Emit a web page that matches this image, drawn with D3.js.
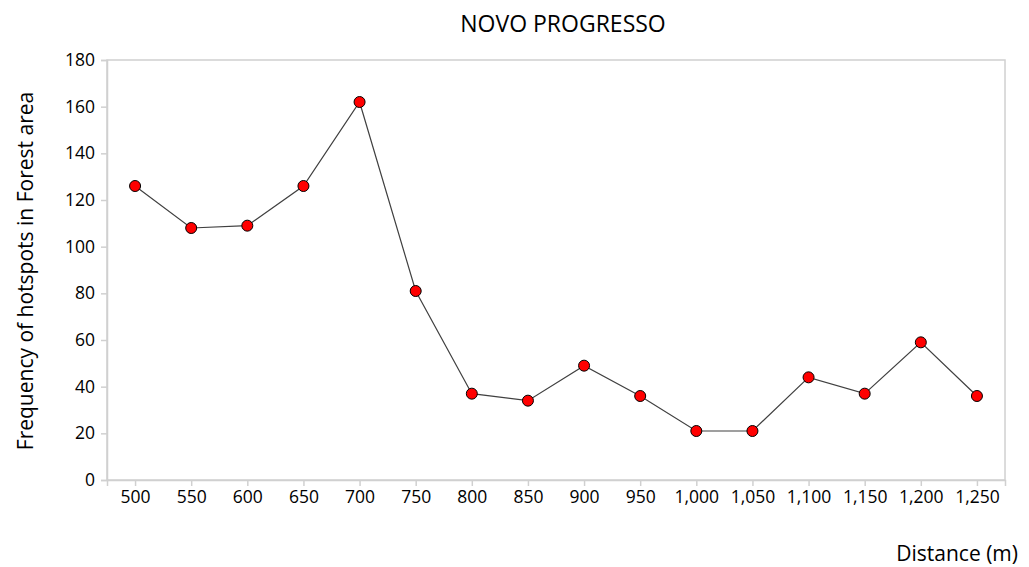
<!DOCTYPE html>
<html><head><meta charset="utf-8">
<script src="https://cdn.jsdelivr.net/npm/d3@7"></script>
<style>body{margin:0;background:#fff}svg{display:block}text{font-family:"Open Sans",sans-serif;fill:#000}</style>
</head><body>
<svg id="c" width="1029" height="567"></svg>
<script>
const categories = [500,550,600,650,700,750,800,850,900,950,1000,1050,1100,1150,1200,1250];
const values = [126,108,109,126,162,81,37,34,49,36,21,21,44,37,59,36];
const yTicks = [0,20,40,60,80,100,120,140,160,180];

const svg = d3.select("#c");
const L=107, R=1005, T=60, B=480;
const x = d3.scalePoint().domain(categories).range([L,R]).padding(0.5);
const y = d3.scaleLinear().domain([0,180]).range([B,T]);
const fmt = d3.format(",");

svg.append("rect").attr("x",L).attr("y",T).attr("width",R-L).attr("height",B-T)
  .attr("fill","none").attr("stroke","#d0d0d0").attr("stroke-width",1.5);

const ya = svg.append("g").attr("transform",`translate(${L},0)`)
  .call(d3.axisLeft(y).tickValues(yTicks).tickSize(6).tickPadding(6));
ya.select(".domain").attr("stroke","#d0d0d0").attr("stroke-width",1.5);
ya.selectAll(".tick line").attr("stroke","#d0d0d0").attr("stroke-width",1.5);
ya.selectAll("text").style("font-size","17.5px").attr("fill","#000");

const xa = svg.append("g").attr("transform",`translate(0,${B})`)
  .call(d3.axisBottom(x).tickFormat(fmt).tickSize(6).tickPadding(5));
xa.select(".domain").attr("stroke","#d0d0d0").attr("stroke-width",1.5);
xa.selectAll(".tick line").attr("stroke","#d0d0d0").attr("stroke-width",1.5);
xa.selectAll("text").style("font-size","17.5px").attr("fill","#000");

const line = d3.line().x((d,i)=>x(categories[i])).y(d=>y(d));
svg.append("path").datum(values).attr("d",line).attr("fill","none")
  .attr("stroke","#404040").attr("stroke-width",1.2);

svg.selectAll("circle.pt").data(values).join("circle").attr("class","pt")
  .attr("cx",(d,i)=>x(categories[i])).attr("cy",d=>y(d)).attr("r",5.5)
  .attr("fill","#ff0000").attr("stroke","#000").attr("stroke-width",1);

svg.append("text").attr("x",563).attr("y",32).attr("text-anchor","middle")
  .style("font-size","23px").text("NOVO PROGRESSO");
svg.append("text").attr("transform","translate(33,271) rotate(-90)").attr("text-anchor","middle")
  .style("font-size","21px").text("Frequency of hotspots in Forest area");
svg.append("text").attr("x",1018).attr("y",561).attr("text-anchor","end")
  .style("font-size","21px").text("Distance (m)");
</script>
</body></html>
